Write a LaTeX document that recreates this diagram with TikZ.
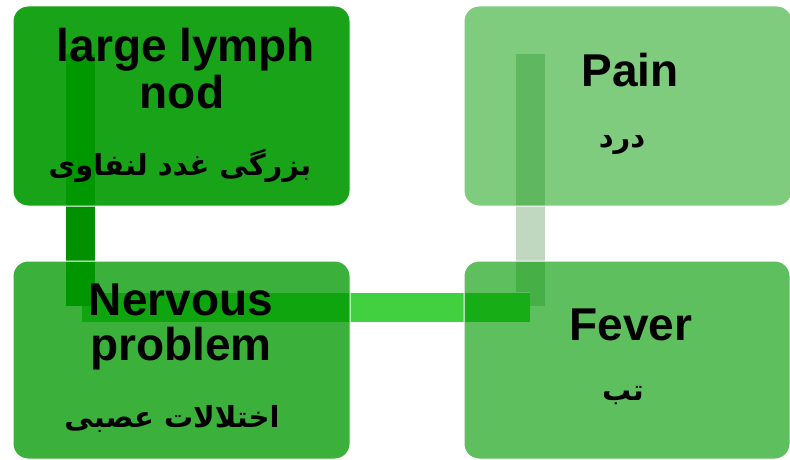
\documentclass[tikz,border=0pt]{standalone}
\usepackage{fontspec}
\setmainfont{Liberation Sans}
\newfontfamily\arabicfont[Script=Arabic]{DejaVu Sans}
\TeXXeTstate=1
\usetikzlibrary{calc}

\definecolor{boxgreen}{RGB}{0,153,0}
\definecolor{barleft}{RGB}{0,144,0}
\definecolor{barmid}{RGB}{64,208,64}
\definecolor{barright}{RGB}{192,216,192}

\tikzset{
  frame/.style={minimum width=#1, inner sep=0pt, outer sep=0pt, anchor=north west},
  cardfill/.style={fill=boxgreen, rounded corners=15pt, fill opacity=#1},
  cardedge/.style={draw=white, line width=1pt, rounded corners=15pt},
  entext/.style={font=\bfseries\fontsize{46}{46}\selectfont, anchor=base, inner sep=0pt},
  fatext/.style={font=\arabicfont\bfseries\fontsize{29}{29}\selectfont, anchor=base, inner sep=0pt},
  bar/.style={draw=white, line width=0.75pt, double=#1, double distance=29pt, line cap=butt}
}

\begin{document}
\begin{tikzpicture}[x=1pt,y=-1pt]
\useasboundingbox (0,0) rectangle (790,460);

% box geometry
\node[frame=337pt, minimum height=200pt] (lymph) at (13,6)    {};
\node[frame=328pt, minimum height=200pt] (pain)  at (464,6)   {};
\node[frame=337pt, minimum height=198pt] (nerv)  at (13,261)  {};
\node[frame=326pt, minimum height=198pt] (fever) at (464,261) {};

% connector end points, placed from the boxes
\path (lymph.north west) ++(67,48)   coordinate (la);
\path (nerv.north west)  ++(67,45)   coordinate (lb);
\path (nerv.north west)  ++(69,46.5) coordinate (ma);
\path (fever.north west) ++(66,46.5) coordinate (mb);
\path (pain.north west)  ++(66,48)   coordinate (ra);
\path (fever.north west) ++(66,45)   coordinate (rb);

% connectors behind the boxes
\draw[bar=barright] (ra) -- (rb);
\draw[bar=barmid]   (ma) -- (mb);
\draw[bar=barleft]  (la) -- (lb);

% translucent cards
\fill[cardfill=0.9]   (lymph.north west) rectangle (lymph.south east);
\fill[cardfill=0.767] (nerv.north west)  rectangle (nerv.south east);
\fill[cardfill=0.633] (fever.north west) rectangle (fever.south east);
\fill[cardfill=0.5]   (pain.north west)  rectangle (pain.south east);
\draw[cardedge] (lymph.north west) rectangle (lymph.south east);
\draw[cardedge] (nerv.north west)  rectangle (nerv.south east);
\draw[cardedge] (fever.north west) rectangle (fever.south east);
\draw[cardedge] (pain.north west)  rectangle (pain.south east);

% labels
\node[entext] (l1) at (186,62)  {large lymph};
\node[entext] (l2) at (182,108) {nod};
\node[fatext] (l3) at (180,175) {\beginR بزرگی غدد لنفاوی\endR};

\node[entext] (p1) at (630,86)  {Pain};
\node[fatext] (p2) at (622,147) {\beginR درد\endR};

\node[entext] (n1) at (181,315) {Nervous};
\node[entext] (n2) at (181,360) {problem};
\node[fatext] (n3) at (172,427) {\beginR اختلالات عصبی\endR};

\node[entext] (f1) at (631,340) {Fever};
\node[fatext] (f2) at (623,400) {\beginR تب\endR};
\end{tikzpicture}
\end{document}
